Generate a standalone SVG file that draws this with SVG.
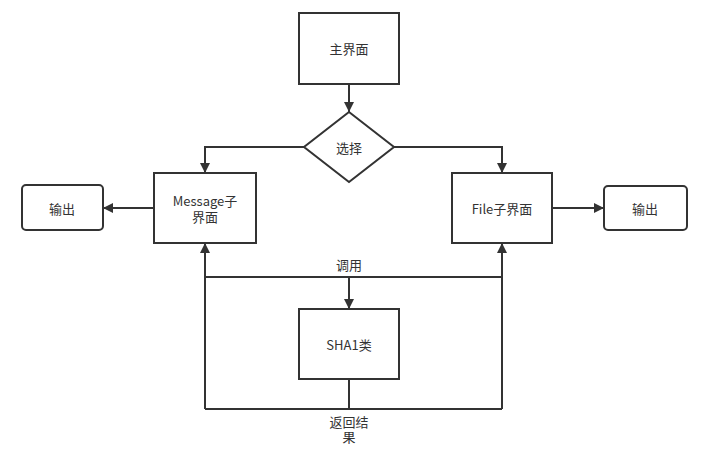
<svg xmlns="http://www.w3.org/2000/svg" width="710" height="454" viewBox="0 0 710 454">
<style>
.box{fill:#fff;stroke:#333;stroke-width:2}
.ln{fill:none;stroke:#333;stroke-width:2}
text{font-family:"Noto Sans CJK SC","Liberation Sans",sans-serif;font-size:13px;fill:#333;text-anchor:middle;dominant-baseline:central}
</style>
<defs>
<marker id="ah" viewBox="0 0 10 10" refX="10" refY="5" markerWidth="10" markerHeight="10" markerUnits="userSpaceOnUse" orient="auto">
<path d="M0,0 L10,5 L0,10 Z" fill="#333"/>
</marker>
</defs>
<rect width="710" height="454" fill="#fff"/>
<g id="connectors">
<path class="ln" d="M349,84 V112" marker-end="url(#ah)"/>
<path class="ln" d="M304,147 H205 V173" marker-end="url(#ah)"/>
<path class="ln" d="M394,147 H502 V173" marker-end="url(#ah)"/>
<path class="ln" d="M154,208 H103" marker-end="url(#ah)"/>
<path class="ln" d="M552,208 H604" marker-end="url(#ah)"/>
<path class="ln" d="M205,277 H502"/>
<path class="ln" d="M349,277 V309" marker-end="url(#ah)"/>
<path class="ln" d="M349,379 V409"/>
<path class="ln" d="M205,409 H502"/>
<path class="ln" d="M205,409 V243" marker-end="url(#ah)"/>
<path class="ln" d="M502,409 V243" marker-end="url(#ah)"/>
<text x="349" y="264">调用</text>
<text x="349" y="421">返回结<tspan x="349" dy="15">果</tspan></text>
</g>
<g id="main">
<rect class="box" x="299" y="13" width="100" height="71"/>
<text x="349" y="48">主界面</text>
</g>
<g id="choose">
<path class="box" d="M349,112 L394,147 L349,182 L304,147 Z"/>
<text x="349" y="147">选择</text>
</g>
<g id="message">
<rect class="box" x="154" y="173" width="102" height="70"/>
<text x="205" y="200">Message子<tspan x="205" dy="16">界面</tspan></text>
</g>
<g id="file">
<rect class="box" x="452" y="173" width="100" height="70"/>
<text x="502" y="208">File子界面</text>
</g>
<g id="outLeft">
<rect class="box" x="22" y="185" width="81" height="45" rx="4"/>
<text x="62" y="208">输出</text>
</g>
<g id="outRight">
<rect class="box" x="604" y="186" width="83" height="44" rx="4"/>
<text x="645" y="208">输出</text>
</g>
<g id="sha1">
<rect class="box" x="299" y="309" width="100" height="70"/>
<text x="349" y="344">SHA1类</text>
</g>
</svg>
